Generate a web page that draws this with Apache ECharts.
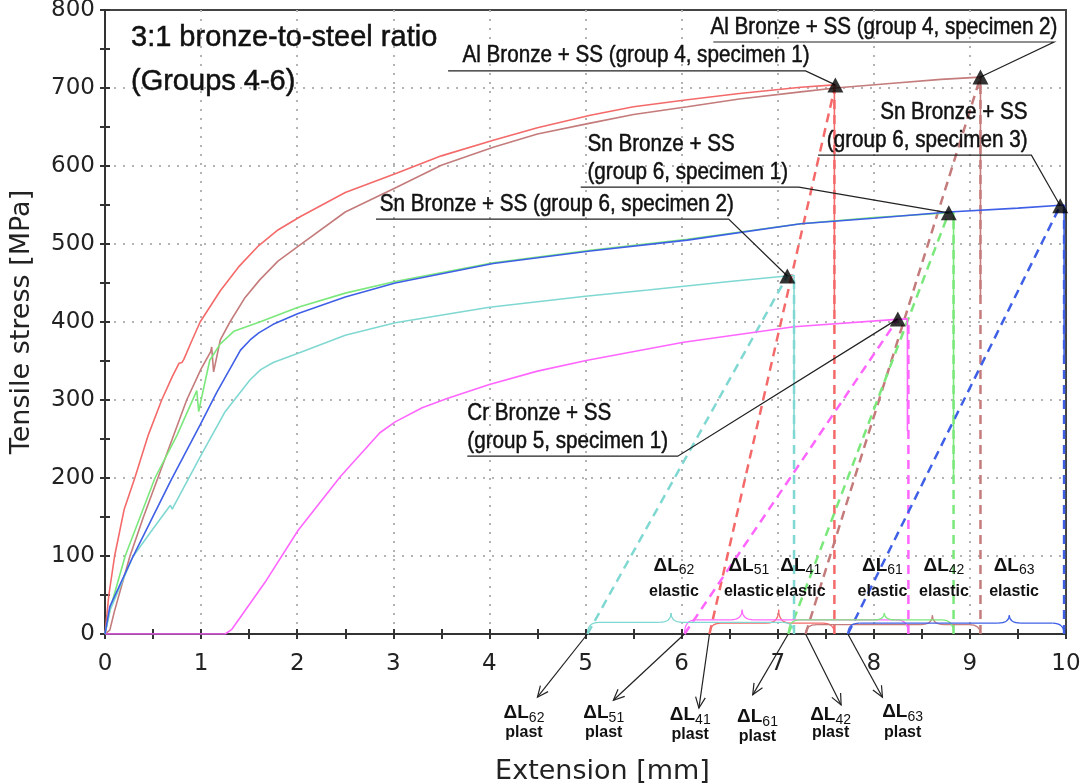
<!DOCTYPE html>
<html>
<head>
<meta charset="utf-8">
<script src="https://cdn.jsdelivr.net/npm/echarts@6/dist/echarts.min.js"></script>
<style>html,body{margin:0;padding:0;background:#fff}#chart{width:1086px;height:784px}</style>
</head>
<body>
<div id="chart"></div>
<script>
// stress-extension curves, extension [mm] / tensile stress [MPa]
const g4s1X = [0, 0.04, 0.1, 0.2, 0.31, 0.45, 0.59, 0.7, 0.77, 0.8, 0.82, 0.9, 0.99, 1.2, 1.4, 1.6, 1.8, 2.03, 2.5, 3.04, 3.5, 4.04, 4.5, 5.05, 5.5, 6.06, 6.6, 7.24, 7.59, 7.59];
const g4s1Y = [0, 50, 100, 160, 200, 255, 300, 330, 347, 348, 352, 375, 400, 440, 472, 498, 518, 535, 566, 591, 613, 633, 649, 665, 676, 685, 693, 701, 704, 415];
const g4s2X = [0, 0.05, 0.1, 0.26, 0.4, 0.55, 0.7, 0.85, 1.0, 1.1, 1.11, 1.13, 1.2, 1.3, 1.45, 1.61, 1.8, 2.03, 2.5, 3.04, 3.5, 4.04, 4.5, 5.05, 5.5, 6.06, 6.6, 7.24, 7.6, 8.2, 8.7, 9.11, 9.11];
const g4s2Y = [0, 5, 30, 100, 150, 200, 250, 300, 340, 362, 368, 336, 377, 400, 430, 454, 478, 499, 541, 573, 601, 624, 641, 655, 666, 676, 686, 695, 700, 706, 711, 714, 432];
const g5s1X = [0, 1.25, 1.32, 1.44, 1.68, 2.01, 2.45, 2.86, 3.02, 3.3, 3.56, 4.0, 4.5, 5.02, 6.02, 7.17, 8.2, 8.35, 8.35];
const g5s1Y = [0, 0, 6, 27, 69, 133, 202, 258, 272, 290, 302, 320, 337, 351, 374, 394, 403, 404, 260];
const g6s1X = [0, 0.06, 0.21, 0.52, 0.75, 0.93, 0.955, 0.975, 1.0, 1.09, 1.2, 1.34, 1.61, 2.01, 2.5, 3.02, 4.04, 5.05, 6.06, 7.24, 8.0, 8.8, 8.83, 8.83];
const g6s1Y = [0, 35, 100, 200, 255, 305, 312, 285, 300, 351, 372, 388, 400, 419, 437, 452, 476, 492, 506, 526, 534, 540, 540, 200];
const g6s2X = [0, 0.05, 0.29, 0.5, 0.68, 0.7, 0.72, 0.99, 1.25, 1.51, 1.62, 1.75, 2.01, 2.5, 3.02, 4.0, 5.0, 5.65, 6.5, 7.09, 7.17, 7.17];
const g6s2Y = [0, 30, 99, 135, 165, 160, 165, 227, 285, 326, 339, 348, 360, 383, 399, 419, 433, 441, 452, 459, 460, 258];
const g6s3X = [0, 0.05, 0.29, 0.69, 0.99, 1.16, 1.41, 1.51, 1.6, 1.75, 2.01, 2.5, 3.02, 4.04, 5.05, 6.06, 7.24, 8.0, 8.78, 9.5, 9.98, 9.98];
const g6s3Y = [0, 35, 99, 198, 268, 309, 364, 377, 386, 397, 411, 432, 450, 475, 491, 505, 526, 533, 541, 546, 550, 350];

// order: g4s1, g4s2, g5s1, g6s1, g6s2, g6s3
const curveX = [g4s1X, g4s2X, g5s1X, g6s1X, g6s2X, g6s3X];
const curveY = [g4s1Y, g4s2Y, g5s1Y, g6s1Y, g6s2Y, g6s3Y];
const subIds = ['41', '42', '51', '61', '62', '63'];
const colors = ['#f46a6a', '#c47b7b', '#ff66ff', '#7be87b', '#80d8d2', '#3f60e6'];

// fracture points (triangles), plastic elongation, total elongation
const peakX = [7.60, 9.11, 8.25, 8.78, 7.10, 9.94];
const peakY = [704, 714, 404, 540, 459, 549];
const plastX = [6.29, 7.29, 6.03, 7.11, 5.02, 7.73];
const dropX = [7.59, 9.11, 8.36, 8.83, 7.17, 9.98];

// braces + elastic labels
const bracePeakX = [7.01, 8.61, 6.63, 8.11, 5.89, 9.41];
const braceLevel = [14, 12, 18, 18, 15, 14];
const braceTop = [31, 24, 31, 27, 27, 24];
const elasticLabelX = [7.24, 8.73, 6.70, 8.09, 5.92, 9.46];
const elasticLabelY = [88, 54];

// plastic labels + arrows
const plastLabelX = [6.09, 7.55, 5.19, 6.79, 4.36, 8.30];
const plastLabelY = [-104, -104, -101, -106, -101, -100];
const plastWordY = [-129, -127, -127, -132, -127, -127];
const arrowEndX = [6.18, 7.66, 5.29, 6.74, 4.50, 8.09];
const arrowEndY = [-95, -91, -85, -78, -81, -81];

// callouts
const calloutText = ['Al Bronze + SS (group 4, specimen 1)', 'Al Bronze + SS (group 4, specimen 2)',
  'Cr Bronze + SS\n(group 5, specimen 1)', 'Sn Bronze + SS\n(group 6, specimen 1)',
  'Sn Bronze + SS (group 6, specimen 2)', 'Sn Bronze + SS\n(group 6, specimen 3)'];
const calloutTextX = [3.72, 6.30, 3.77, 5.02, 2.86, 9.60];
const calloutAlign = ['left', 'left', 'left', 'left', 'left', 'right'];
const underlineY = [722, 759, 228, 573, 532, 614];
const underlineX0 = [3.57, 6.33, 3.77, 4.95, 2.82, 7.42];
const underlineX1 = [7.29, 9.875, 5.96, 7.22, 6.49, 9.64];

const FONT_N = '"Liberation Sans", Arial, sans-serif';
const FONT_A = '"DejaVu Sans", Verdana, sans-serif';

const chart = echarts.init(document.getElementById('chart'));

const series = [];
curveX.forEach((xs, i) => {
  series.push({
    type: 'line', data: xs.map((x, k) => [x, curveY[i][k]]), symbol: 'none', z: 3,
    lineStyle: { color: colors[i], width: 1.6 }, animation: false
  });
});
peakX.forEach((px, i) => {
  const dashed = { color: colors[i], width: 2.5, type: [9, 6] };
  series.push({
    type: 'line', data: [[plastX[i], 0], [px, peakY[i]]], symbol: 'none', z: 2,
    lineStyle: dashed, animation: false
  });
  series.push({
    type: 'line', data: [[dropX[i], 0], [dropX[i], peakY[i]]], symbol: 'none', z: 2,
    lineStyle: dashed, animation: false
  });
});

// braces
series.push({
  type: 'custom', clip: false, silent: true, z: 4, animation: false,
  data: plastX.map((x, i) => [x, dropX[i], bracePeakX[i], braceLevel[i], braceTop[i]]),
  renderItem: (params, api) => {
    const i = params.dataIndex;
    const x0 = api.value(0), x1 = api.value(1), xp = api.value(2), lv = api.value(3), tp = api.value(4);
    const d = 0.12;
    const P = (x, y) => api.coord([x, y]);
    const st = { stroke: colors[i], lineWidth: 1.2, fill: 'none' };
    const q = (a, c, b) => ({ type: 'bezierCurve', shape: { x1: a[0], y1: a[1], cpx1: c[0], cpy1: c[1], x2: b[0], y2: b[1] }, style: st });
    const ln = (a, b) => ({ type: 'line', shape: { x1: a[0], y1: a[1], x2: b[0], y2: b[1] }, style: st });
    return {
      type: 'group', children: [
        q(P(x0, 0), P(x0, lv), P(x0 + d, lv)),
        ln(P(x0 + d, lv), P(xp - d, lv)),
        q(P(xp - d, lv), P(xp, lv), P(xp, tp)),
        q(P(xp, tp), P(xp, lv), P(xp + d, lv)),
        ln(P(xp + d, lv), P(x1 - d, lv)),
        q(P(x1 - d, lv), P(x1, lv), P(x1, 0))
      ]
    };
  }
});

// ΔL label with subscript
const subRich = {
  d: { fontSize: 19, fontWeight: 'bold', fontFamily: FONT_N, fill: '#111' },
  s: { fontSize: 14, fontFamily: FONT_N, fill: '#111', padding: [10, 0, 0, 0] }
};
const deltaText = (p, i) => ({
  type: 'text', x: p[0], y: p[1],
  style: { text: '{d|ΔL}{s|' + subIds[i] + '}', rich: subRich, align: 'center', verticalAlign: 'middle' }
});
const wordText = (p, w) => ({
  type: 'text', x: p[0], y: p[1],
  style: { text: w, font: 'bold 16px ' + FONT_N, fill: '#111', align: 'center', verticalAlign: 'middle' }
});

// elastic labels
series.push({
  type: 'custom', clip: false, silent: true, z: 6, animation: false,
  data: elasticLabelX.map(x => [x, elasticLabelY[0]]),
  renderItem: (params, api) => {
    const i = params.dataIndex;
    return {
      type: 'group', children: [
        deltaText(api.coord([api.value(0), elasticLabelY[0]]), i),
        wordText(api.coord([api.value(0), elasticLabelY[1]]), 'elastic')
      ]
    };
  }
});

// plastic labels with arrows
series.push({
  type: 'custom', clip: false, silent: true, z: 6, animation: false,
  data: plastLabelX.map((x, i) => [x, plastLabelY[i]]),
  renderItem: (params, api) => {
    const i = params.dataIndex;
    const s = api.coord([plastX[i], 0]);
    const e = api.coord([arrowEndX[i], arrowEndY[i]]);
    const ang = Math.atan2(e[1] - s[1], e[0] - s[0]);
    const L = 12, w = 0.42;
    const h1 = [e[0] - L * Math.cos(ang - w), e[1] - L * Math.sin(ang - w)];
    const h2 = [e[0] - L * Math.cos(ang + w), e[1] - L * Math.sin(ang + w)];
    const st = { stroke: '#222', lineWidth: 1.2, fill: 'none' };
    return {
      type: 'group', children: [
        { type: 'line', shape: { x1: s[0], y1: s[1], x2: e[0], y2: e[1] }, style: st },
        { type: 'polyline', shape: { points: [h1, e, h2] }, style: st },
        deltaText(api.coord([plastLabelX[i], plastLabelY[i]]), i),
        wordText(api.coord([plastLabelX[i], plastWordY[i]]), 'plast')
      ]
    };
  }
});

// callouts with leaders
series.push({
  type: 'custom', clip: false, silent: true, z: 6, animation: false,
  data: calloutTextX.map((x, i) => [x, underlineY[i]]),
  renderItem: (params, api) => {
    const i = params.dataIndex;
    const t = api.coord([calloutTextX[i], underlineY[i]]);
    const u0 = api.coord([underlineX0[i], underlineY[i]]);
    const u1 = api.coord([underlineX1[i], underlineY[i]]);
    const pk = api.coord([peakX[i], peakY[i]]);
    return {
      type: 'group', children: [
        { type: 'polyline', shape: { points: [u0, u1, pk] }, style: { stroke: '#222', lineWidth: 1.2, fill: 'none' } },
        {
          type: 'text', x: t[0], y: t[1] - 1, scaleX: 0.86,
          style: {
            text: calloutText[i], font: '24px ' + FONT_N, fill: '#111', stroke: '#111', lineWidth: 0.5,
            align: calloutAlign[i], verticalAlign: 'bottom', lineHeight: 28
          }
        }
      ]
    };
  }
});

// triangles
series.push({
  type: 'scatter', data: peakX.map((x, i) => [x, peakY[i]]), symbol: 'triangle', symbolSize: [16, 15],
  itemStyle: { color: '#000' }, z: 8, animation: false, silent: true
});

const tickStyle = { color: '#333', width: 2 };
const gridDots = { show: true, showMinLine: false, showMaxLine: false, lineStyle: { color: '#b3b3b3', type: [2, 7], width: 2 } };
chart.setOption({
  animation: false,
  backgroundColor: '#fff',
  title: {
    text: '3:1 bronze-to-steel ratio\n(Groups 4-6)', left: 126, top: 11,
    textStyle: {
      fontFamily: FONT_N, fontSize: 29, fontWeight: 'normal', color: '#111', lineHeight: 44,
      textBorderColor: '#111', textBorderWidth: 0.5
    }
  },
  grid: {
    left: 105, right: 20, top: 10, bottom: 150, show: true, borderColor: '#444', borderWidth: 2,
    containLabel: false, outerBoundsMode: 'none'
  },
  xAxis: [{
    type: 'value', min: 0, max: 10, interval: 1, position: 'bottom',
    axisLine: { show: true, onZero: false, lineStyle: { color: '#333', width: 2 } },
    axisTick: { show: true, inside: false, length: 5, lineStyle: tickStyle },
    minorTick: { show: true, splitNumber: 2, length: 5, lineStyle: tickStyle },
    axisLabel: { fontSize: 23, color: '#222', margin: 19, fontFamily: FONT_A },
    splitLine: gridDots,
    name: 'Extension [mm]', nameLocation: 'middle', nameGap: 124,
    nameTextStyle: { fontSize: 27, fontFamily: FONT_A, color: '#222', padding: [0, 0, 0, 34] }
  }, {
    type: 'value', min: 0, max: 10, interval: 1, position: 'bottom',
    axisLine: { show: false }, axisLabel: { show: false }, splitLine: { show: false },
    axisTick: { show: true, inside: true, length: 5, lineStyle: tickStyle },
    minorTick: { show: true, splitNumber: 2, length: 5, lineStyle: tickStyle }
  }],
  yAxis: [{
    type: 'value', min: 0, max: 800, interval: 100, position: 'left',
    axisLine: { show: true, onZero: false, lineStyle: { color: '#333', width: 2 } },
    axisTick: { show: true, inside: false, length: 5, lineStyle: tickStyle },
    minorTick: { show: true, splitNumber: 2, length: 5, lineStyle: tickStyle },
    axisLabel: { fontSize: 23, color: '#222', margin: 10, fontFamily: FONT_A },
    splitLine: gridDots,
    name: 'Tensile stress [MPa]', nameLocation: 'middle', nameGap: 70,
    nameTextStyle: { fontSize: 27, fontFamily: FONT_A, color: '#222' }
  }, {
    type: 'value', min: 0, max: 800, interval: 100, position: 'left',
    axisLine: { show: false }, axisLabel: { show: false }, splitLine: { show: false },
    axisTick: { show: true, inside: true, length: 5, lineStyle: tickStyle },
    minorTick: { show: true, splitNumber: 2, length: 5, lineStyle: tickStyle }
  }],
  series: series
});
</script>
</body>
</html>
